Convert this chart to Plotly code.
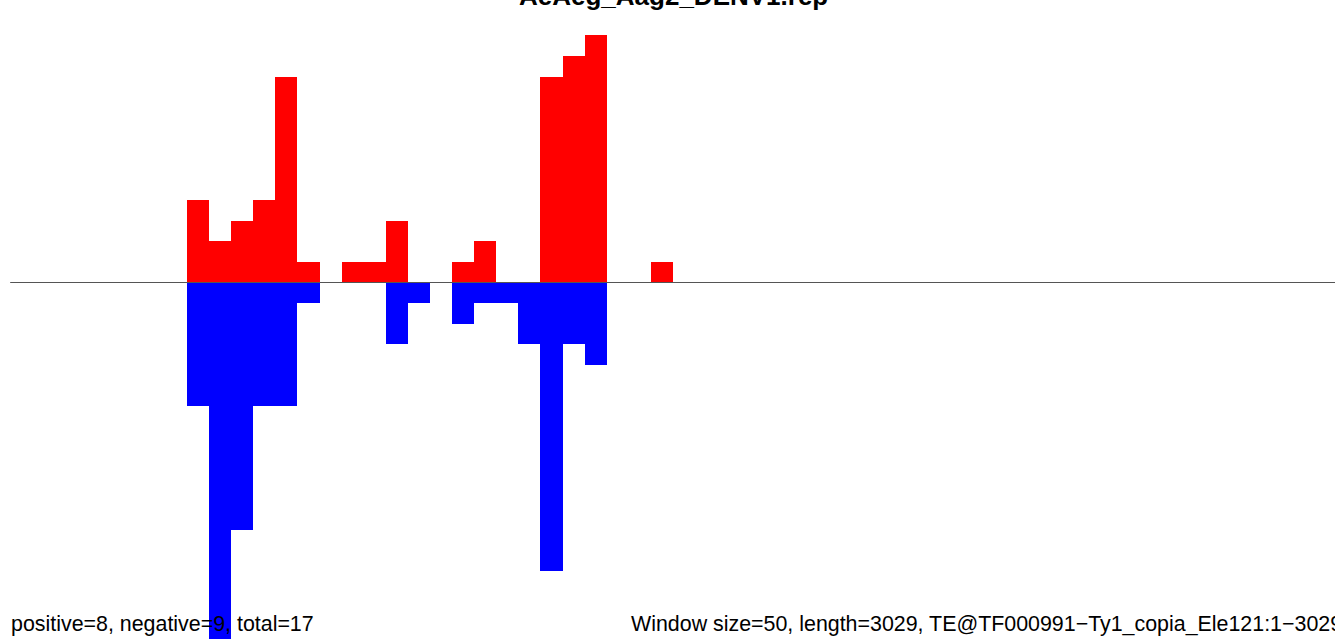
import plotly.graph_objects as go

# Window data (window size = 50 bp, sequence length = 3029)
window_size = 50
seq_length = 3029
window_index = list(range(8, 30))
positive_counts = [4, 2, 3, 4, 10, 1, 0, 1, 1, 3, 0, 0, 1, 2, 0, 0, 10, 11, 12, 0, 0, 1]
negative_counts = [6, 20, 12, 6, 6, 1, 0, 0, 0, 3, 1, 0, 2, 1, 1, 3, 14, 3, 4, 0, 0, 0]

title_text = "AeAeg_Aag2_DENV1.rep"
left_note = "positive=8, negative=9, total=17"
right_note = "Window size=50, length=3029, TE@TF000991\u2212Ty1_copia_Ele121:1\u22123029"

centers = [i * window_size + window_size / 2 for i in window_index]

W, H = 1335, 639
px_per_bp = 22.095 / window_size
x0_px = 10.2
x_range = [-x0_px / px_per_bp, (W - x0_px) / px_per_bp]
px_per_unit = 20.6
zero_px = 282.5
y_range = [-(H - zero_px) / px_per_unit, zero_px / px_per_unit]

fig = go.Figure()
fig.add_trace(go.Bar(
    x=centers, y=positive_counts, width=window_size,
    marker=dict(color="#FF0000", line=dict(width=0)), showlegend=False,
))
fig.add_trace(go.Bar(
    x=centers, y=[-v for v in negative_counts], width=window_size,
    marker=dict(color="#0000FF", line=dict(width=0)), showlegend=False,
))

fig.add_shape(type="line", xref="x", yref="y", x0=0, x1=x_range[1] + 100, y0=0, y1=0,
              line=dict(color="#555555", width=1), layer="above")

font_family = "Liberation Sans, Arial, sans-serif"
fig.add_annotation(text="<b>" + title_text + "</b>", xref="paper", yref="paper",
                   x=673 / W, y=1 - 13 / H, xanchor="center", yanchor="bottom",
                   showarrow=False, font=dict(family=font_family, size=26, color="black"))
fig.add_annotation(text=left_note, xref="paper", yref="paper",
                   x=8.5 / W, y=1 - 638 / H, xanchor="left", yanchor="bottom",
                   showarrow=False, font=dict(family=font_family, size=21.4, color="black"))
fig.add_annotation(text=right_note, xref="paper", yref="paper",
                   x=628.5 / W, y=1 - 638 / H, xanchor="left", yanchor="bottom",
                   showarrow=False, font=dict(family=font_family, size=21.4, color="black"))

fig.update_layout(
    width=W, height=H, margin=dict(l=0, r=0, t=0, b=0),
    paper_bgcolor="white", plot_bgcolor="white",
    barmode="overlay", bargap=0,
    xaxis=dict(range=x_range, visible=False, fixedrange=True),
    yaxis=dict(range=y_range, visible=False, fixedrange=True),
)

fig.write_html("out.html", config={"displayModeBar": False},
               post_script="document.body.style.margin='0';document.body.style.overflow='hidden';")
